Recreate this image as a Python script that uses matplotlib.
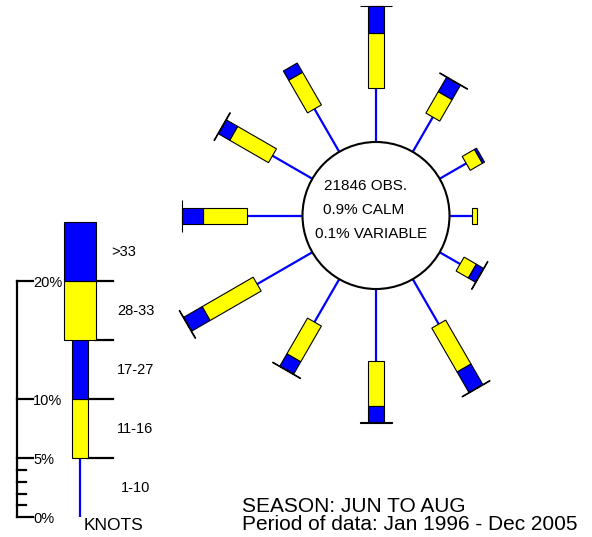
import numpy as np
import matplotlib
matplotlib.use("Agg")
import matplotlib.pyplot as plt
from matplotlib.patches import Polygon, Circle

plt.rcParams['font.family'] = ['Liberation Sans', 'DejaVu Sans']

# wind directions (degrees from north) and percentage of obs per speed class
directions = [0, 30, 60, 90, 120, 150, 180, 210, 240, 270, 300, 330]
pct_1_10 = [4.6, 3.4, 2.6, 1.9, 2.0, 4.4, 6.1, 4.2, 5.4, 4.7, 3.9, 4.2]
pct_11_16 = [4.6, 2.1, 1.2, 0.4, 1.2, 4.3, 3.8, 3.5, 5.0, 3.7, 3.8, 3.2]
pct_17_27 = [2.3, 1.4, 0.2, 0.0, 0.7, 2.0, 1.4, 1.2, 1.8, 1.8, 1.1, 0.9]
pct_28_33 = [0.05, 0.05, 0.0, 0.0, 0.05, 0.05, 0.05, 0.05, 0.05, 0.05, 0.05, 0.0]
pct_over_33 = [0.0, 0.0, 0.0, 0.0, 0.0, 0.0, 0.0, 0.0, 0.0, 0.0, 0.0, 0.0]

speed_classes = ['1-10', '11-16', '17-27', '28-33', '>33']
key_pct = [5, 5, 5, 5, 5]
key_ticks = [0, 5, 10, 20]
key_minor = [1, 2, 3, 4]

n_obs = 21846
calm = 0.9
variable = 0.1

PX_PER_PCT = 11.8
CENTER = (376.0, 215.5)
CALM_R = 73.5
NARROW = 8.0
WIDE = 16.0
BLUE = '#0000ff'
YELLOW = '#ffff00'
seg_style = [(NARROW, YELLOW), (NARROW, BLUE), (WIDE, YELLOW), (WIDE, BLUE)]


def bar_poly(ax, cx, cy, theta, r0, r1, half_w, color):
    ux, uy = np.sin(theta), -np.cos(theta)
    px, py = np.cos(theta), np.sin(theta)
    pts = [(cx + ux * r0 + px * half_w, cy + uy * r0 + py * half_w),
           (cx + ux * r1 + px * half_w, cy + uy * r1 + py * half_w),
           (cx + ux * r1 - px * half_w, cy + uy * r1 - py * half_w),
           (cx + ux * r0 - px * half_w, cy + uy * r0 - py * half_w)]
    ax.add_patch(Polygon(pts, closed=True, facecolor=color, edgecolor='black',
                         linewidth=0.8, zorder=3))


def draw_spoke(ax, cx, cy, deg, r_start, values):
    theta = np.radians(deg)
    ux, uy = np.sin(theta), -np.cos(theta)
    r = r_start + values[0] * PX_PER_PCT
    ax.plot([cx + ux * r_start, cx + ux * r], [cy + uy * r_start, cy + uy * r],
            color=BLUE, linewidth=1.6, zorder=2, solid_capstyle='butt')
    for v, (hw, col) in zip(values[1:], seg_style):
        if v <= 0:
            continue
        r1 = r + v * PX_PER_PCT
        bar_poly(ax, cx, cy, theta, r, r1, hw, col)
        r = r1


fig = plt.figure(figsize=(5.92, 5.37), dpi=100)
ax = fig.add_axes([0, 0, 1, 1])
ax.set_xlim(0, 592)
ax.set_ylim(537, 0)
ax.axis('off')

# rose
cx, cy = CENTER
for i, d in enumerate(directions):
    vals = [pct_1_10[i], pct_11_16[i], pct_17_27[i], pct_28_33[i], pct_over_33[i]]
    draw_spoke(ax, cx, cy, d, CALM_R, vals)

ax.add_patch(Circle((cx, cy), CALM_R, facecolor='white', edgecolor='black',
                    linewidth=1.5, zorder=4))
ax.text(cx - 10, cy - 29, f'{n_obs} OBS.', ha='center', va='center', fontsize=11, zorder=5)
ax.text(cx - 12, cy - 5, f'{calm}% CALM', ha='center', va='center', fontsize=11, zorder=5)
ax.text(cx - 5, cy + 19, f'{variable}% VARIABLE', ha='center', va='center', fontsize=11, zorder=5)

# key
kx, k0 = 80.0, 517.3
axis_x = 17.3
ax.plot([axis_x, axis_x], [k0, k0 - 20 * PX_PER_PCT], color='black', linewidth=1.6)
for t in key_ticks:
    y = k0 - t * PX_PER_PCT
    ax.plot([axis_x, 33], [y, y], color='black', linewidth=1.6)
    ax.text(33, y + 1.5, f'{t}%', ha='left', va='center', fontsize=10.5)
for t in key_minor:
    y = k0 - t * PX_PER_PCT
    ax.plot([axis_x, 26], [y, y], color='black', linewidth=1.6)

draw_spoke(ax, kx, k0, 0, 0, key_pct)
cum = np.cumsum(key_pct)
for j, c in enumerate(cum[:-1]):
    y = k0 - c * PX_PER_PCT
    left = kx + (WIDE if j >= 2 else NARROW)
    ax.plot([left, 113], [y, y], color='black', linewidth=1.6, zorder=1)

starts = np.concatenate([[0], cum[:-1]])
for j, lab in enumerate(speed_classes):
    y = k0 - (starts[j] + key_pct[j] / 2) * PX_PER_PCT
    xpos = 124 if lab.startswith('>') else 135.5
    ax.text(xpos, y, lab, ha='center', va='center', fontsize=10.5)
ax.text(84, 526, 'KNOTS', ha='left', va='center', fontsize=12.5)

ax.text(242, 507, 'SEASON: JUN TO AUG', ha='left', va='center', fontsize=15)
ax.text(242, 525, 'Period of data: Jan 1996 - Dec 2005', ha='left', va='center', fontsize=15)

fig.savefig('out.png', dpi=100)
